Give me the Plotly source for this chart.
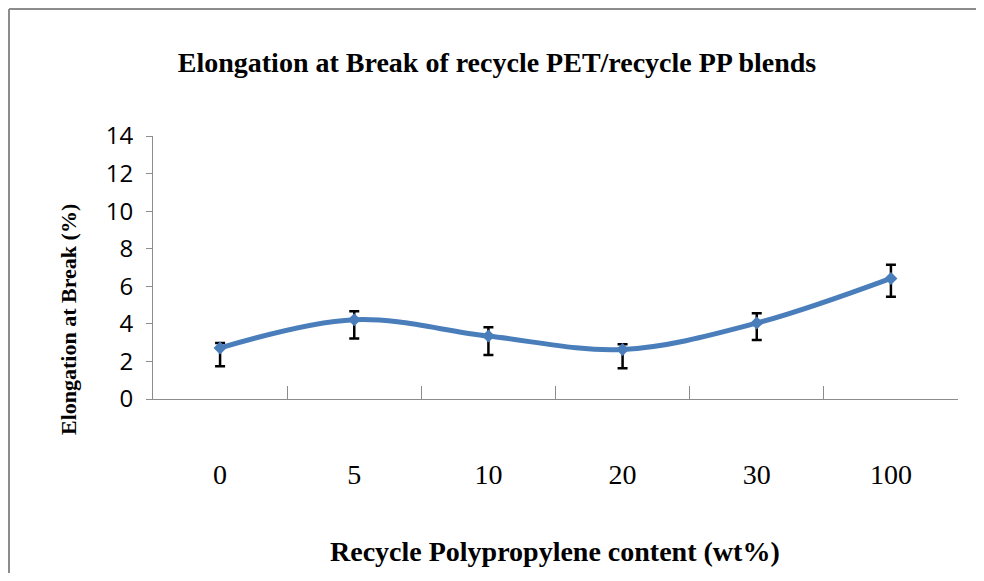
import plotly.graph_objects as go

# data
categories = ["0", "5", "10", "20", "30", "100"]
elongation = [2.72, 4.22, 3.35, 2.64, 4.04, 6.42]
err_plus = [0.26, 0.45, 0.47, 0.28, 0.53, 0.73]
err_minus = [0.97, 1.0, 1.01, 1.0, 0.9, 0.98]
y_ticks = [0, 2, 4, 6, 8, 10, 12, 14]

# page body adds an 8px margin, so the figure is shrunk and shifted back
OFF = 8
W, H = 984 - 2 * OFF, 581 - 2 * OFF
L, T = 153 - OFF, 136 - OFF
R, B = W + OFF - 958, H + OFF - 399
PW, PH = 805, 263


def px_x(x):
    return (x - OFF - L) / PW


def px_y(y):
    return (T + PH - (y - OFF)) / PH


fig = go.Figure()

fig.add_trace(go.Scatter(
    x=categories,
    y=elongation,
    mode="lines+markers",
    line=dict(color="#4A7EBB", width=5, shape="spline", smoothing=1.0),
    marker=dict(symbol="diamond", size=10, color="#4A7EBB"),
    error_y=dict(
        type="data",
        symmetric=False,
        array=err_plus,
        arrayminus=err_minus,
        color="black",
        thickness=2.5,
        width=5
    ),
    showlegend=False
))

# outer chart border: only the left and top edges are in view
fig.add_shape(
    type="line", xref="paper", yref="paper",
    x0=px_x(9), x1=px_x(9), y0=px_y(600), y1=px_y(9),
    line=dict(color="#8C8C8C", width=2), layer="below"
)
fig.add_shape(
    type="line", xref="paper", yref="paper",
    x0=px_x(9), x1=px_x(1000), y0=px_y(9), y1=px_y(9),
    line=dict(color="#8C8C8C", width=2), layer="below"
)

fig.update_layout(
    width=W,
    height=H,
    margin=dict(l=L, r=R, t=T, b=B, autoexpand=False),
    paper_bgcolor="white",
    plot_bgcolor="white",
    title=dict(
        text="<b>Elongation at Break of recycle PET/recycle PP blends</b>",
        x=(497 - OFF) / W, xanchor="center",
        y=1 - (62 - OFF) / H, yanchor="middle",
        font=dict(family="Liberation Serif", size=28, color="black")
    ),
    xaxis=dict(
        type="category",
        tickson="boundaries",
        ticks="inside",
        ticklen=13,
        tickcolor="#8C8C8C",
        showline=True,
        linecolor="#8C8C8C",
        linewidth=1,
        showgrid=False,
        automargin=False,
        ticklabelstandoff=50,
        tickfont=dict(family="Liberation Serif", size=28, color="black"),
        range=[-0.5, 5.5]
    ),
    yaxis=dict(
        range=[0, 14],
        tickvals=y_ticks,
        ticks="outside",
        ticklen=6,
        tickcolor="#8C8C8C",
        showline=True,
        linecolor="#8C8C8C",
        linewidth=1,
        showgrid=False,
        zeroline=False,
        automargin=False,
        ticklabelstandoff=8,
        tickfont=dict(family="Open Sans", size=24, color="black")
    ),
    annotations=[
        dict(
            text="<b>Elongation at Break (%)</b>",
            xref="paper", yref="paper",
            x=px_x(68), y=px_y(320),
            xanchor="center", yanchor="middle",
            textangle=-90, showarrow=False,
            font=dict(family="Liberation Serif", size=22, color="black")
        ),
        dict(
            text="<b>Recycle Polypropylene content (wt%)</b>",
            xref="paper", yref="paper",
            x=px_x(555), y=px_y(551),
            xanchor="center", yanchor="middle",
            showarrow=False,
            font=dict(family="Liberation Serif", size=28, color="black")
        )
    ]
)

fig.write_html("out.html")
